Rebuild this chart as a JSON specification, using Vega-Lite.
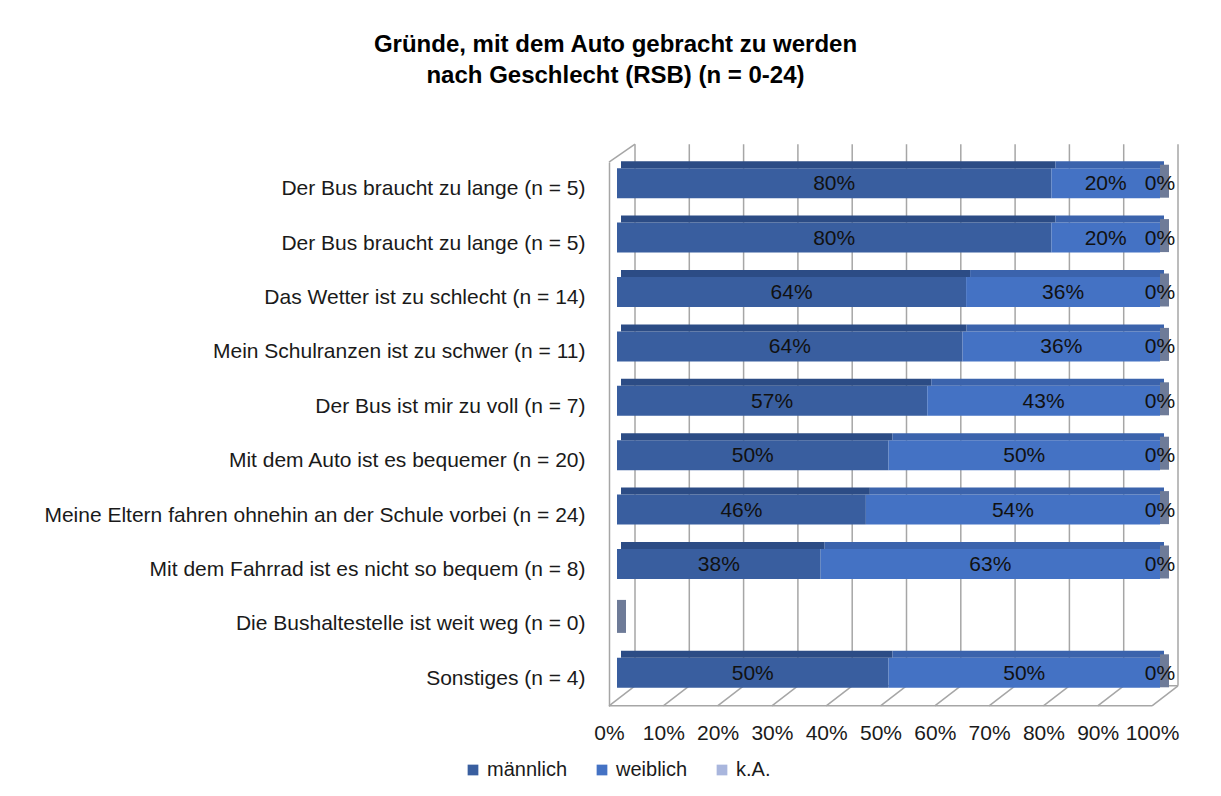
{
  "$schema": "https://vega.github.io/schema/vega-lite/v6.json",
  "width": 543,
  "height": 544,
  "autosize": {"type": "none"},
  "padding": {"left": 617, "top": 162, "right": 61, "bottom": 90},
  "background": "white",
  "title": {
    "text": ["Gründe, mit dem Auto gebracht zu werden", "nach Geschlecht (RSB) (n = 0-24)"],
    "font": "Liberation Sans",
    "fontSize": 24,
    "fontWeight": "bold",
    "lineHeight": 31,
    "color": "#000000",
    "anchor": "middle",
    "dx": -273,
    "offset": 55
  },
  "config": {
    "view": {"stroke": null},
    "font": "Liberation Sans",
    "legend": {
      "orient": "none",
      "legendX": -154,
      "legendY": 598,
      "direction": "horizontal",
      "columns": 3,
      "symbolType": "square",
      "symbolSize": 115,
      "symbolStrokeWidth": 0,
      "labelFont": "Liberation Sans",
      "labelFontSize": 20,
      "labelColor": "#1a1a1a",
      "labelOffset": 4,
      "columnPadding": 24,
      "padding": 0
    }
  },
  "layer": [
    {
      "data": {"values": [{"g": 0}, {"g": 0.1}, {"g": 0.2}, {"g": 0.3}, {"g": 0.4}, {"g": 0.5}, {"g": 0.6}, {"g": 0.7}, {"g": 0.8}, {"g": 0.9}, {"g": 1}]},
      "layer": [
        {
          "mark": {"type": "rule", "color": "#A6A6A6", "strokeWidth": 1.5, "xOffset": 18, "x2Offset": 18, "yOffset": -45, "y2Offset": 7},
          "encoding": {
            "x": {
              "field": "g", "type": "quantitative",
              "scale": {"domain": [0, 1], "nice": false},
              "axis": {
                "title": null,
                "format": ".0%",
                "values": [0, 0.1, 0.2, 0.3, 0.4, 0.5, 0.6, 0.7, 0.8, 0.9, 1],
                "labelOffset": -8,
                "labelPadding": 16,
                "labelFont": "Liberation Sans",
                "labelFontSize": 21,
                "labelColor": "#1a1a1a",
                "labelFlush": false,
                "ticks": false,
                "grid": false,
                "domain": false
              }
            },
            "y": {"datum": "01|Der Bus braucht zu lange (n = 5)", "type": "nominal"},
            "y2": {"datum": "10|Sonstiges (n = 4)"}
          }
        },
        {
          "mark": {"type": "rule", "color": "#A6A6A6", "strokeWidth": 1.5, "xOffset": -8, "x2Offset": 18, "yOffset": 27, "y2Offset": 7},
          "encoding": {
            "x": {"field": "g", "type": "quantitative"},
            "x2": {"field": "g"},
            "y": {"datum": "10|Sonstiges (n = 4)", "type": "nominal"},
            "y2": {"datum": "10|Sonstiges (n = 4)"}
          }
        }
      ]
    },
    {
      "data": {"values": [{"a": 0, "b": 1}]},
      "layer": [
        {
          "mark": {"type": "rule", "color": "#A6A6A6", "strokeWidth": 1.5, "xOffset": -8, "x2Offset": -8, "yOffset": 27, "y2Offset": 27},
          "encoding": {
            "x": {"field": "a", "type": "quantitative"},
            "x2": {"field": "b"},
            "y": {"datum": "10|Sonstiges (n = 4)", "type": "nominal"},
            "y2": {"datum": "10|Sonstiges (n = 4)"}
          }
        },
        {
          "mark": {"type": "rule", "color": "#A6A6A6", "strokeWidth": 1.5, "xOffset": 18, "x2Offset": 18, "yOffset": 7, "y2Offset": 7},
          "encoding": {
            "x": {"field": "a", "type": "quantitative"},
            "x2": {"field": "b"},
            "y": {"datum": "10|Sonstiges (n = 4)", "type": "nominal"},
            "y2": {"datum": "10|Sonstiges (n = 4)"}
          }
        },
        {
          "mark": {"type": "rule", "color": "#A6A6A6", "strokeWidth": 1.5, "xOffset": -8, "x2Offset": 18, "yOffset": -27, "y2Offset": -45},
          "encoding": {
            "x": {"field": "a", "type": "quantitative"},
            "x2": {"field": "a"},
            "y": {"datum": "01|Der Bus braucht zu lange (n = 5)", "type": "nominal"},
            "y2": {"datum": "01|Der Bus braucht zu lange (n = 5)"}
          }
        }
      ]
    },
    {
      "data": {"name": "main"},
      "transform": [
        {"stack": "v", "groupby": ["r"], "sort": [{"field": "o", "order": "ascending"}], "as": ["x0", "x1"]}
      ],
      "layer": [
        {
          "mark": {"type": "bar", "size": 30, "yOffset": -6},
          "encoding": {
            "y": {
              "field": "r", "type": "nominal",
              "scale": {"domain": ["01|Der Bus braucht zu lange (n = 5)", "02|Der Bus braucht zu lange (n = 5)", "03|Das Wetter ist zu schlecht (n = 14)", "04|Mein Schulranzen ist zu schwer (n = 11)", "05|Der Bus ist mir zu voll (n = 7)", "06|Mit dem Auto ist es bequemer (n = 20)", "07|Meine Eltern fahren ohnehin an der Schule vorbei (n = 24)", "08|Mit dem Fahrrad ist es nicht so bequem (n = 8)", "09|Die Bushaltestelle ist weit weg (n = 0)", "10|Sonstiges (n = 4)"], "paddingInner": 0, "paddingOuter": 0},
              "axis": {
                "title": null,
                "labelExpr": "split(datum.label, '|')[1]",
                "labelFont": "Liberation Sans",
                "labelFontSize": 21,
                "labelColor": "#1a1a1a",
                "labelLimit": 800,
                "labelPadding": 24,
                "offset": 8,
                "ticks": false,
                "domain": true,
                "domainColor": "#A6A6A6",
                "domainWidth": 1.5,
                "grid": false
              }
            },
            "x": {"field": "x0", "type": "quantitative"},
            "x2": {"field": "x1"},
            "color": {
              "field": "s", "type": "nominal",
              "scale": {"domain": ["männlich", "weiblich", "k.A."], "range": ["#395E9F", "#4472C4", "#A9B6DD"]},
              "legend": {"title": null}
            }
          }
        },
        {
          "transform": [{"filter": "datum.s != 'k.A.'"}],
          "mark": {"type": "bar", "size": 7, "yOffset": -24.5, "xOffset": 4, "x2Offset": 4},
          "encoding": {
            "y": {"field": "r", "type": "nominal"},
            "x": {"field": "x0", "type": "quantitative"},
            "x2": {"field": "x1"},
            "fill": {
              "field": "s", "type": "nominal",
              "scale": {"domain": ["männlich", "weiblich"], "range": ["#2C4C85", "#3B63AC"]},
              "legend": null
            }
          }
        },
        {
          "transform": [{"filter": "datum.s == 'k.A.'"}],
          "mark": {"type": "bar", "size": 33, "yOffset": -8, "x2Offset": 9, "color": "#6E7B98"},
          "encoding": {
            "y": {"field": "r", "type": "nominal"},
            "x": {"field": "x0", "type": "quantitative"},
            "x2": {"field": "x1"}
          }
        },
        {
          "transform": [
            {"filter": "datum.n > 0"},
            {"calculate": "(datum.x0 + datum.x1) / 2", "as": "mid"}
          ],
          "mark": {"type": "text", "font": "Liberation Sans", "fontSize": 21, "color": "#111111", "yOffset": -5},
          "encoding": {
            "y": {"field": "r", "type": "nominal"},
            "x": {"field": "mid", "type": "quantitative"},
            "text": {"field": "v", "type": "quantitative", "format": ".0%"}
          }
        }
      ]
    }
  ],
  "data": {"name": "main", "values": [
    {"r": "01|Der Bus braucht zu lange (n = 5)", "s": "männlich", "o": 1, "v": 0.8, "n": 5},
    {"r": "01|Der Bus braucht zu lange (n = 5)", "s": "weiblich", "o": 2, "v": 0.2, "n": 5},
    {"r": "01|Der Bus braucht zu lange (n = 5)", "s": "k.A.", "o": 3, "v": 0, "n": 5},
    {"r": "02|Der Bus braucht zu lange (n = 5)", "s": "männlich", "o": 1, "v": 0.8, "n": 5},
    {"r": "02|Der Bus braucht zu lange (n = 5)", "s": "weiblich", "o": 2, "v": 0.2, "n": 5},
    {"r": "02|Der Bus braucht zu lange (n = 5)", "s": "k.A.", "o": 3, "v": 0, "n": 5},
    {"r": "03|Das Wetter ist zu schlecht (n = 14)", "s": "männlich", "o": 1, "v": 0.6429, "n": 14},
    {"r": "03|Das Wetter ist zu schlecht (n = 14)", "s": "weiblich", "o": 2, "v": 0.3571, "n": 14},
    {"r": "03|Das Wetter ist zu schlecht (n = 14)", "s": "k.A.", "o": 3, "v": 0, "n": 14},
    {"r": "04|Mein Schulranzen ist zu schwer (n = 11)", "s": "männlich", "o": 1, "v": 0.6364, "n": 11},
    {"r": "04|Mein Schulranzen ist zu schwer (n = 11)", "s": "weiblich", "o": 2, "v": 0.3636, "n": 11},
    {"r": "04|Mein Schulranzen ist zu schwer (n = 11)", "s": "k.A.", "o": 3, "v": 0, "n": 11},
    {"r": "05|Der Bus ist mir zu voll (n = 7)", "s": "männlich", "o": 1, "v": 0.5714, "n": 7},
    {"r": "05|Der Bus ist mir zu voll (n = 7)", "s": "weiblich", "o": 2, "v": 0.4286, "n": 7},
    {"r": "05|Der Bus ist mir zu voll (n = 7)", "s": "k.A.", "o": 3, "v": 0, "n": 7},
    {"r": "06|Mit dem Auto ist es bequemer (n = 20)", "s": "männlich", "o": 1, "v": 0.5, "n": 20},
    {"r": "06|Mit dem Auto ist es bequemer (n = 20)", "s": "weiblich", "o": 2, "v": 0.5, "n": 20},
    {"r": "06|Mit dem Auto ist es bequemer (n = 20)", "s": "k.A.", "o": 3, "v": 0, "n": 20},
    {"r": "07|Meine Eltern fahren ohnehin an der Schule vorbei (n = 24)", "s": "männlich", "o": 1, "v": 0.4583, "n": 24},
    {"r": "07|Meine Eltern fahren ohnehin an der Schule vorbei (n = 24)", "s": "weiblich", "o": 2, "v": 0.5417, "n": 24},
    {"r": "07|Meine Eltern fahren ohnehin an der Schule vorbei (n = 24)", "s": "k.A.", "o": 3, "v": 0, "n": 24},
    {"r": "08|Mit dem Fahrrad ist es nicht so bequem (n = 8)", "s": "männlich", "o": 1, "v": 0.375, "n": 8},
    {"r": "08|Mit dem Fahrrad ist es nicht so bequem (n = 8)", "s": "weiblich", "o": 2, "v": 0.625, "n": 8},
    {"r": "08|Mit dem Fahrrad ist es nicht so bequem (n = 8)", "s": "k.A.", "o": 3, "v": 0, "n": 8},
    {"r": "09|Die Bushaltestelle ist weit weg (n = 0)", "s": "männlich", "o": 1, "v": 0, "n": 0},
    {"r": "09|Die Bushaltestelle ist weit weg (n = 0)", "s": "weiblich", "o": 2, "v": 0, "n": 0},
    {"r": "09|Die Bushaltestelle ist weit weg (n = 0)", "s": "k.A.", "o": 3, "v": 0, "n": 0},
    {"r": "10|Sonstiges (n = 4)", "s": "männlich", "o": 1, "v": 0.5, "n": 4},
    {"r": "10|Sonstiges (n = 4)", "s": "weiblich", "o": 2, "v": 0.5, "n": 4},
    {"r": "10|Sonstiges (n = 4)", "s": "k.A.", "o": 3, "v": 0, "n": 4}
  ]}
}
